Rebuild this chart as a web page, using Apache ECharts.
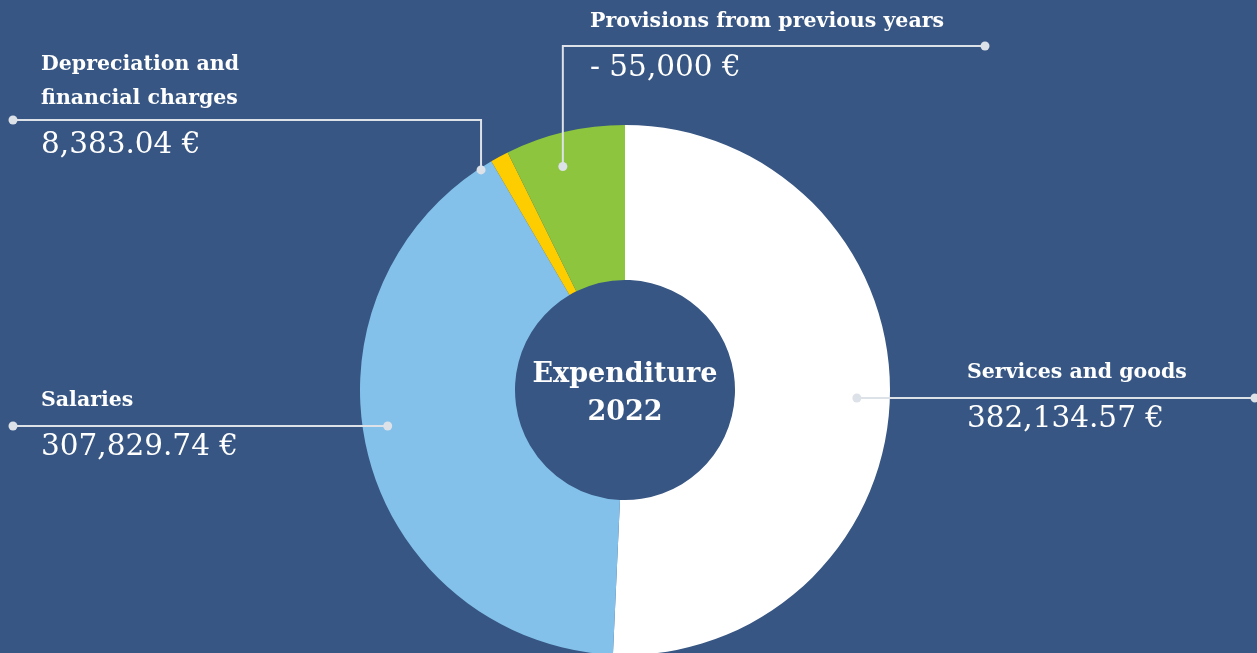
<!DOCTYPE html>
<html>
<head>
<meta charset="utf-8">
<script src="https://cdn.jsdelivr.net/npm/echarts@6/dist/echarts.min.js"></script>
<style>
  html, body { margin: 0; padding: 0; background: #375683; }
  #chart { width: 1257px; height: 653px; }
</style>
</head>
<body>
<div id="chart"></div>
<script>
// data
const categories = ['Services and goods', 'Salaries', 'Depreciation and\nfinancial charges', 'Provisions from previous years'];
const amounts = [382134.57, 307829.74, 8383.04, -55000];
const sliceColors = ['#ffffff', '#83c1ea', '#fdcd00', '#8dc53e'];
const centerTitle = 'Expenditure\n2022';

// geometry of the donut
const CX = 625, CY = 390, R0 = 110, R1 = 265;
// callouts: 'h' = straight line, 'v' = goes up then sideways
const callouts = [
  { type: 'h', lineY: 398, endX: 1255, textX: 967, r: 232, dy: 0 },
  { type: 'h', lineY: 426, endX: 13, textX: 41, r: 240, dy: 0 },
  { type: 'v', lineY: 120, endX: 13, textX: 41, r: 263, shift: -4.9, dy: 4 },
  { type: 'v', lineY: 46, endX: 985, textX: 590, r: 232, shift: -2.4, dy: 1 }
];

const total = amounts.reduce((s, v) => s + Math.abs(v), 0);

function fmt(v) {
  const abs = Math.abs(v);
  const s = abs.toLocaleString('en-US', {
    minimumFractionDigits: Number.isInteger(abs) ? 0 : 2,
    maximumFractionDigits: 2
  });
  return (v < 0 ? '- ' : '') + s + ' €';
}

// anchor dot of each leader line, from slice angles
let acc = 0;
const dots = amounts.map((v, i) => {
  const a0 = acc / total * 360;
  acc += Math.abs(v);
  const a1 = acc / total * 360;
  const c = callouts[i];
  const mid = ((a0 + a1) / 2 + (c.shift || 0)) * Math.PI / 180;
  if (c.type === 'h') {
    const dy = c.lineY - CY;
    const dx = Math.sqrt(c.r * c.r - dy * dy);
    return [CX + (Math.sin(mid) >= 0 ? dx : -dx), c.lineY];
  }
  return [CX + c.r * Math.sin(mid), CY - c.r * Math.cos(mid)];
});

const leaders = dots.map((d, i) => {
  const c = callouts[i];
  if (c.type === 'h') return [d, [c.endX, c.lineY]];
  return [d, [d[0], c.lineY], [c.endX, c.lineY]];
});

const lineColor = '#dde1e8';
const graphics = [];
leaders.forEach(p => {
  graphics.push({
    type: 'polyline', z: 100,
    shape: { points: p },
    style: { stroke: lineColor, lineWidth: 2, fill: null }
  });
  [p[0], p[p.length - 1]].forEach(pt => {
    graphics.push({
      type: 'circle', z: 101,
      shape: { cx: pt[0], cy: pt[1], r: 4.5 },
      style: { fill: lineColor }
    });
  });
});
graphics.push({
  type: 'text', x: CX, y: CY + 4, z: 100,
  style: {
    text: centerTitle, fill: '#ffffff',
    font: 'bold 27px "DejaVu Serif"',
    textAlign: 'center', textVerticalAlign: 'middle', lineHeight: 38
  }
});

const chart = echarts.init(document.getElementById('chart'));
chart.setOption({
  backgroundColor: '#375683',
  animation: false,
  graphic: graphics,
  series: [{
    type: 'pie',
    center: [CX, CY],
    radius: [R0, R1],
    startAngle: 90,
    clockwise: true,
    avoidLabelOverlap: false,
    silent: true,
    data: categories.map((name, i) => ({
      name: name,
      value: Math.abs(amounts[i]),
      itemStyle: { color: sliceColors[i] }
    })),
    label: {
      show: true,
      position: 'outside',
      formatter: p => {
        const lines = categories[p.dataIndex].split('\n').map(s => '{n|' + s + '}');
        return lines.join('\n') + '\n{v|' + fmt(amounts[p.dataIndex]) + '}';
      },
      rich: {
        n: { fontFamily: 'DejaVu Serif', fontWeight: 'bold', fontSize: 20.5, color: '#ffffff', lineHeight: 34 },
        v: { fontFamily: 'DejaVu Serif', fontWeight: 'normal', fontSize: 29.5, color: '#ffffff', lineHeight: 58 }
      }
    },
    labelLine: { show: false },
    labelLayout: params => {
      const i = params.dataIndex;
      const c = callouts[i];
      const nLines = categories[i].split('\n').length;
      return {
        x: c.textX,
        y: c.lineY - 42 - (nLines - 1) * 34 + c.dy,
        align: 'left',
        verticalAlign: 'top'
      };
    }
  }]
});
</script>
</body>
</html>
